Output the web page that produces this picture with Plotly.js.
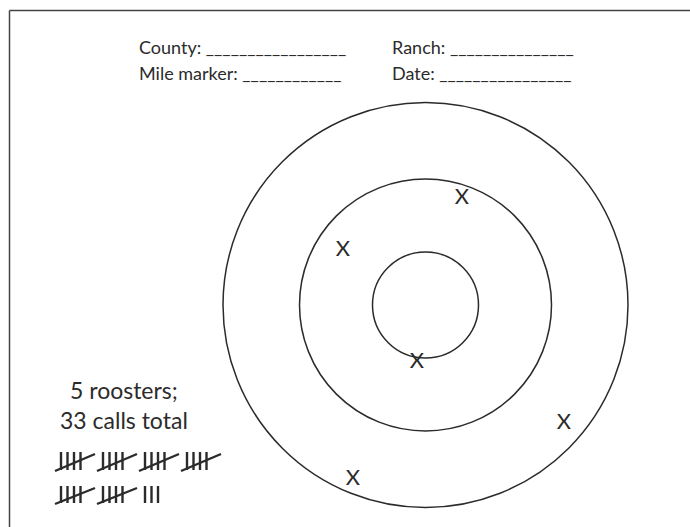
<!DOCTYPE html>
<html>
<head>
<meta charset="utf-8">
<script src="https://cdn.plot.ly/plotly-3.0.1.min.js"></script>
<style>
  html, body { margin: 0; padding: 0; background: #ffffff; }
  #chart { width: 690px; height: 527px; }
</style>
</head>
<body>
<div id="chart"></div>
<script>
// ---- data ----
const roosterX = [462, 343, 417, 564, 353];
const roosterY = [198, 250, 362, 423, 479];
const roosterLabels = ["X", "X", "X", "X", "X"];
const ringRadii = [53, 126, 202.5];
const callsTotal = 33;
const roosterCount = 5;
const headerLabels = ["County:", "Ranch:", "Mile marker:", "Date:"];
const headerBlanks = [17, 15, 12, 16];
const tallyPerRow = [4, 3];

// ---- layout constants ----
const W = 690, H = 527;
const cx = 425.5, cy = 305;
const ink = "#2b2b2b";
const font = "Lato, 'Open Sans', sans-serif";

// tally strokes built from callsTotal
function tallyLines(total) {
  const xs = [], ys = [];
  let remaining = total;
  const rowTop = [452, 486], rowBot = [470, 503];
  for (let r = 0; r < tallyPerRow.length && remaining > 0; r++) {
    for (let c = 0; c < tallyPerRow[r] && remaining > 0; c++) {
      const n = Math.min(5, remaining);
      const gx = 55 + 42 * c;
      const strokes = Math.min(n, 4);
      for (let s = 0; s < strokes; s++) {
        const sx = gx + 6 + 6.5 * s;
        xs.push(sx, sx, null);
        ys.push(rowTop[r], rowBot[r], null);
      }
      if (n === 5) {
        xs.push(gx, gx + 40, null);
        ys.push(rowBot[r] + 1, rowTop[r] + 2, null);
      }
      remaining -= n;
    }
  }
  return {xs, ys};
}
const tally = tallyLines(callsTotal);

const traces = [
  {
    type: "scatter", mode: "lines",
    x: tally.xs, y: tally.ys,
    line: {color: ink, width: 2.4},
    hoverinfo: "skip", showlegend: false, connectgaps: false
  },
  {
    type: "scatter", mode: "text",
    x: roosterX, y: roosterY, text: roosterLabels,
    textposition: "middle center",
    textfont: {family: font, size: 22, color: ink},
    hoverinfo: "skip", showlegend: false
  }
];

const shapes = ringRadii.map(r => ({
  type: "circle", xref: "x", yref: "y",
  x0: cx - r, x1: cx + r, y0: cy - r, y1: cy + r,
  line: {color: ink, width: 1.5}
}));
shapes.push({type: "line", xref: "x", yref: "y", x0: 9.5, x1: W, y0: 10.5, y1: 10.5, line: {color: "#444", width: 1.5}});
shapes.push({type: "line", xref: "x", yref: "y", x0: 9.5, x1: 9.5, y0: 10.5, y1: H, line: {color: "#444", width: 1.5}});

const headerPos = [[137, 46.5], [390, 46.5], [137, 73], [390, 73]];
const annotations = headerLabels.map((t, i) => ({
  xref: "x", yref: "y", x: headerPos[i][0], y: headerPos[i][1],
  xanchor: "left", yanchor: "middle", showarrow: false,
  text: t + " " + "_".repeat(headerBlanks[i]),
  font: {family: font, size: 18, color: ink}
}));
annotations.push({
  xref: "x", yref: "y", x: 124, y: 405, xanchor: "center", yanchor: "middle",
  showarrow: false, align: "center",
  text: roosterCount + " roosters;<br>" + callsTotal + " calls total",
  font: {family: font, size: 23, color: ink}
});

const layout = {
  width: W, height: H,
  margin: {l: 0, r: 0, t: 0, b: 0, pad: 0},
  paper_bgcolor: "#ffffff", plot_bgcolor: "#ffffff",
  xaxis: {range: [0, W], visible: false, fixedrange: true},
  yaxis: {range: [H, 0], visible: false, fixedrange: true},
  shapes: shapes,
  annotations: annotations,
  showlegend: false
};

Plotly.newPlot("chart", traces, layout, {displayModeBar: false, staticPlot: true});
</script>
</body>
</html>
